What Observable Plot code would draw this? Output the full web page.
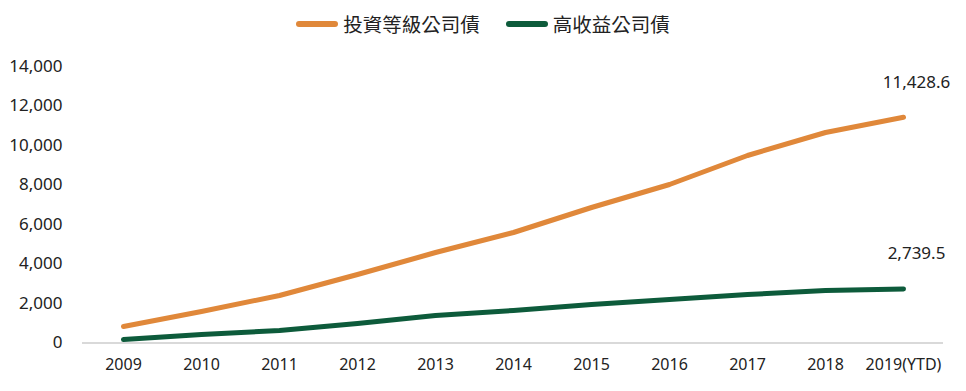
<!DOCTYPE html>
<html>
<head>
<meta charset="utf-8">
<script src="https://cdn.jsdelivr.net/npm/d3@7"></script>
<script src="https://cdn.jsdelivr.net/npm/@observablehq/plot@0.6"></script>
<style>
  html, body { margin: 0; padding: 0; background: #fff; }
  body { width: 966px; height: 391px; overflow: hidden; font-family: "Noto Sans", "Noto Sans CJK TC", sans-serif; }
  #legend { height: 45px; display: flex; justify-content: center; align-items: center; gap: 26px; box-sizing: border-box; padding-top: 2px; }
  .item { display: flex; align-items: center; gap: 5px; font-family: "Noto Sans CJK TC", sans-serif; font-size: 19.5px; color: #222; }
  .sw { width: 42px; height: 6px; border-radius: 3px; }
</style>
</head>
<body>
<div id="legend"></div>
<div id="chart"></div>
<script>
const years = ["2009","2010","2011","2012","2013","2014","2015","2016","2017","2018","2019(YTD)"];
const seriesNames = ["投資等級公司債", "高收益公司債"];
const investmentGrade = [835, 1595, 2405, 3468, 4582, 5595, 6861, 8025, 9494, 10658, 11428.6];
const highYield = [177, 430, 633, 987, 1392, 1646, 1949, 2203, 2456, 2658, 2739.5];
const colors = ["#E0883A", "#0D5B3B"];
const yTicks = [0, 2000, 4000, 6000, 8000, 10000, 12000, 14000];

const data = [
  ...years.map((y, i) => ({year: y, value: investmentGrade[i], series: seriesNames[0]})),
  ...years.map((y, i) => ({year: y, value: highYield[i], series: seriesNames[1]}))
];
const lastPoints = [
  {year: years[years.length - 1], value: investmentGrade[investmentGrade.length - 1], series: seriesNames[0]},
  {year: years[years.length - 1], value: highYield[highYield.length - 1], series: seriesNames[1]}
];

const legend = document.getElementById("legend");
seriesNames.forEach((s, i) => {
  const it = document.createElement("div");
  it.className = "item";
  it.innerHTML = `<span class="sw" style="background:${colors[i]}"></span><span>${s}</span>`;
  legend.appendChild(it);
});

const fmt = d3.format(",");
const chart = Plot.plot({
  width: 966,
  height: 346,
  marginLeft: 82,
  marginRight: 23,
  marginTop: 21,
  marginBottom: 48.5,
  style: { fontFamily: "'Noto Sans', sans-serif", fontSize: "16px", color: "#222", background: "#fff" },
  x: { type: "point", domain: years, padding: 0.5, label: null },
  y: { domain: [0, 14000], label: null },
  color: { domain: seriesNames, range: colors },
  marks: [
    Plot.axisY({ ticks: yTicks, tickSize: 0, tickPadding: 20, tickFormat: fmt, fontSize: 17 }),
    Plot.axisX({ tickSize: 0, tickPadding: 16, fontSize: 16 }),
    Plot.ruleY([0], { stroke: "#d9d9d9", strokeWidth: 2 }),
    Plot.line(data, { x: "year", y: "value", z: "series", stroke: "series", strokeWidth: 5, strokeLinecap: "round", strokeLinejoin: "round" }),
    Plot.text(lastPoints, { x: "year", y: "value", text: d => d3.format(",.1f")(d.value), dx: 13, dy: -35, fontSize: 17, fill: "#222" })
  ]
});
document.getElementById("chart").appendChild(chart);
</script>
</body>
</html>
